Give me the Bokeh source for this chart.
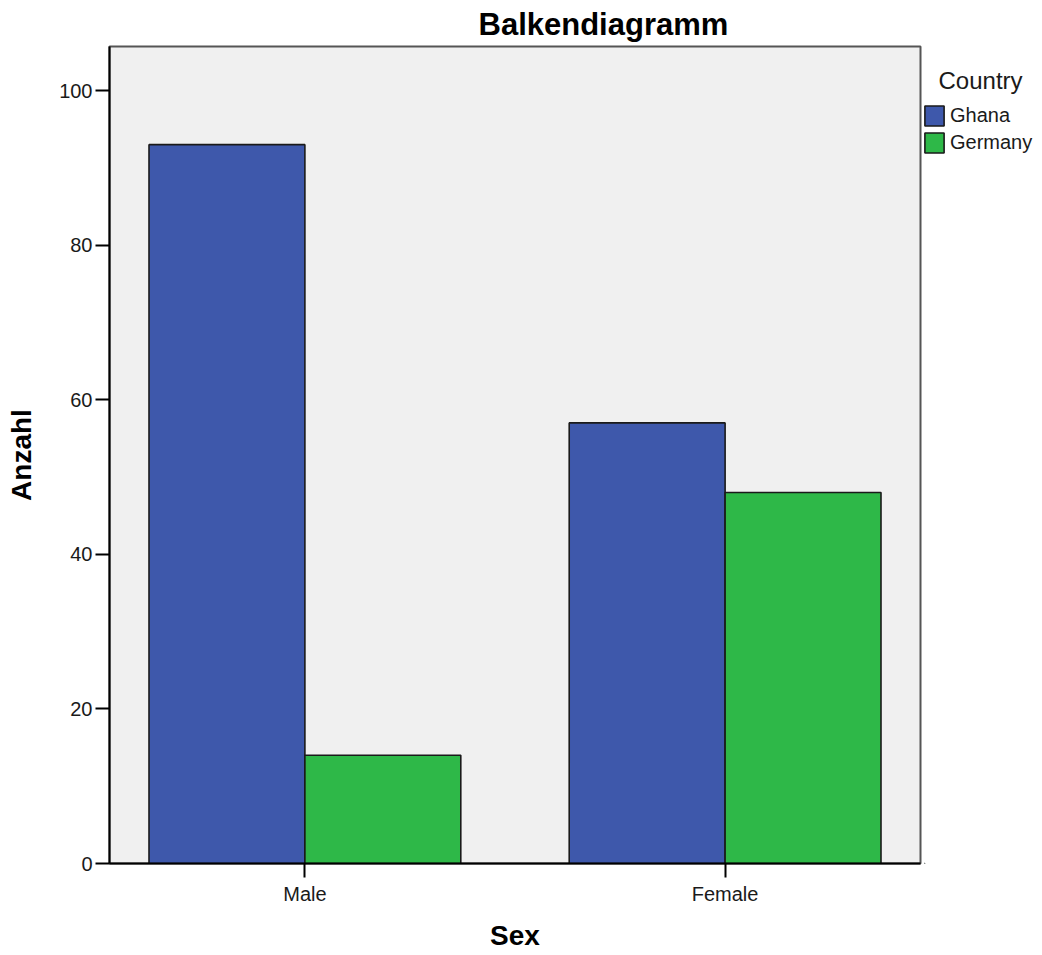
from bokeh.plotting import figure
from bokeh.layouts import row
from bokeh.models import (ColumnDataSource, FactorRange, Range1d, FixedTicker,
                          Legend, LegendItem, Label)
from bokeh.transform import dodge
from bokeh.embed import file_html
from bokeh.resources import INLINE

sexes = ["Male", "Female"]
ghana = [93, 57]
germany = [14, 48]
countries = ["Ghana", "Germany"]
y_ticks = [0, 20, 40, 60, 80, 100]

colors = {"Ghana": "#3E58AB", "Germany": "#2EB848"}
FONT = "Liberation Sans"
H = 953
TOP, BOTTOM = 46, 90
FRAME_BOTTOM = H - BOTTOM  # 863 px from top of the page

src = ColumnDataSource(data=dict(sex=sexes, Ghana=ghana, Germany=germany))

p = figure(width=924, height=H,
           x_range=FactorRange(factors=sexes, range_padding=-0.035),
           y_range=Range1d(0, 105.7),
           output_backend="svg", toolbar_location=None,
           min_border_left=109, min_border_right=4,
           min_border_top=TOP, min_border_bottom=BOTTOM,
           title="Balkendiagramm")

p.title.align = "left"
p.title.offset = 369
p.title.text_font = FONT
p.title.text_font_size = "31px"
p.title.text_font_style = "bold"
p.title.text_color = "black"
p.title.standoff = 9

p.background_fill_color = "#F0F0F0"
p.border_fill_color = "white"
p.outline_line_color = "#555555"
p.outline_line_width = 2
p.xgrid.visible = False
p.ygrid.visible = False

bw = 0.371
bar_line = dict(line_color="#1a1a1a", line_width=1.6)
p.vbar(x=dodge("sex", -bw / 2, range=p.x_range), top="Ghana", width=bw,
       source=src, fill_color=colors["Ghana"], **bar_line)
p.vbar(x=dodge("sex", bw / 2, range=p.x_range), top="Germany", width=bw,
       source=src, fill_color=colors["Germany"], **bar_line)

for ax in (p.xaxis[0], p.yaxis[0]):
    ax.axis_line_color = "black"
    ax.axis_line_width = 2
    ax.major_tick_line_color = "black"
    ax.major_tick_line_width = 2
    ax.major_tick_out = 14
    ax.major_tick_in = 0
    ax.minor_tick_line_color = None
    ax.major_label_text_font = FONT
    ax.major_label_text_font_size = "20px"
    ax.major_label_text_color = "#1a1a1a"
    ax.axis_label_text_font = FONT
    ax.axis_label_text_font_size = "28px"
    ax.axis_label_text_font_style = "bold"
    ax.axis_label_text_color = "black"

p.yaxis.ticker = FixedTicker(ticks=y_ticks)
p.yaxis.major_label_standoff = 3
p.yaxis.axis_label = "Anzahl"
p.yaxis.axis_label_standoff = 19
p.xaxis.major_label_standoff = 5
p.xaxis.axis_label = "Sex"
p.xaxis.axis_label_standoff = 12

# legend panel (separate figure to the right of the chart, frames aligned)
lg = figure(width=116, height=H, output_backend="svg", toolbar_location=None,
            min_border_left=0, min_border_right=0,
            min_border_top=TOP, min_border_bottom=BOTTOM,
            x_range=Range1d(0, 1), y_range=Range1d(0, 1))
lg.axis.visible = False
lg.grid.visible = False
lg.outline_line_color = None
lg.background_fill_color = "white"
lg.border_fill_color = "white"

# legend proxies: one off-screen point each, only used for the legend swatches
proxy = ColumnDataSource(data=dict(x=[-5], top=[-5]))
g1 = lg.vbar(x="x", top="top", width=0.1, source=proxy,
             fill_color=colors["Ghana"], **bar_line)
g2 = lg.vbar(x="x", top="top", width=0.1, source=proxy,
             fill_color=colors["Germany"], **bar_line)

legend = Legend(items=[LegendItem(label=countries[0], renderers=[g1]),
                       LegendItem(label=countries[1], renderers=[g2])],
                location=(-2, FRAME_BOTTOM - 155), padding=0, margin=0, spacing=2,
                glyph_width=24, glyph_height=25, label_height=20,
                label_standoff=4, label_text_font=FONT,
                label_text_font_size="20px", label_text_color="#1a1a1a",
                border_line_color=None, background_fill_alpha=0)
lg.add_layout(legend, "center")
lg.add_layout(Label(x=14, y=FRAME_BOTTOM - 80, x_units="screen", y_units="screen",
                    text="Country", text_baseline="alphabetic", text_font=FONT,
                    text_font_size="24px", text_color="#1a1a1a"))

open("out.html", "w").write(file_html(row(p, lg), INLINE))
